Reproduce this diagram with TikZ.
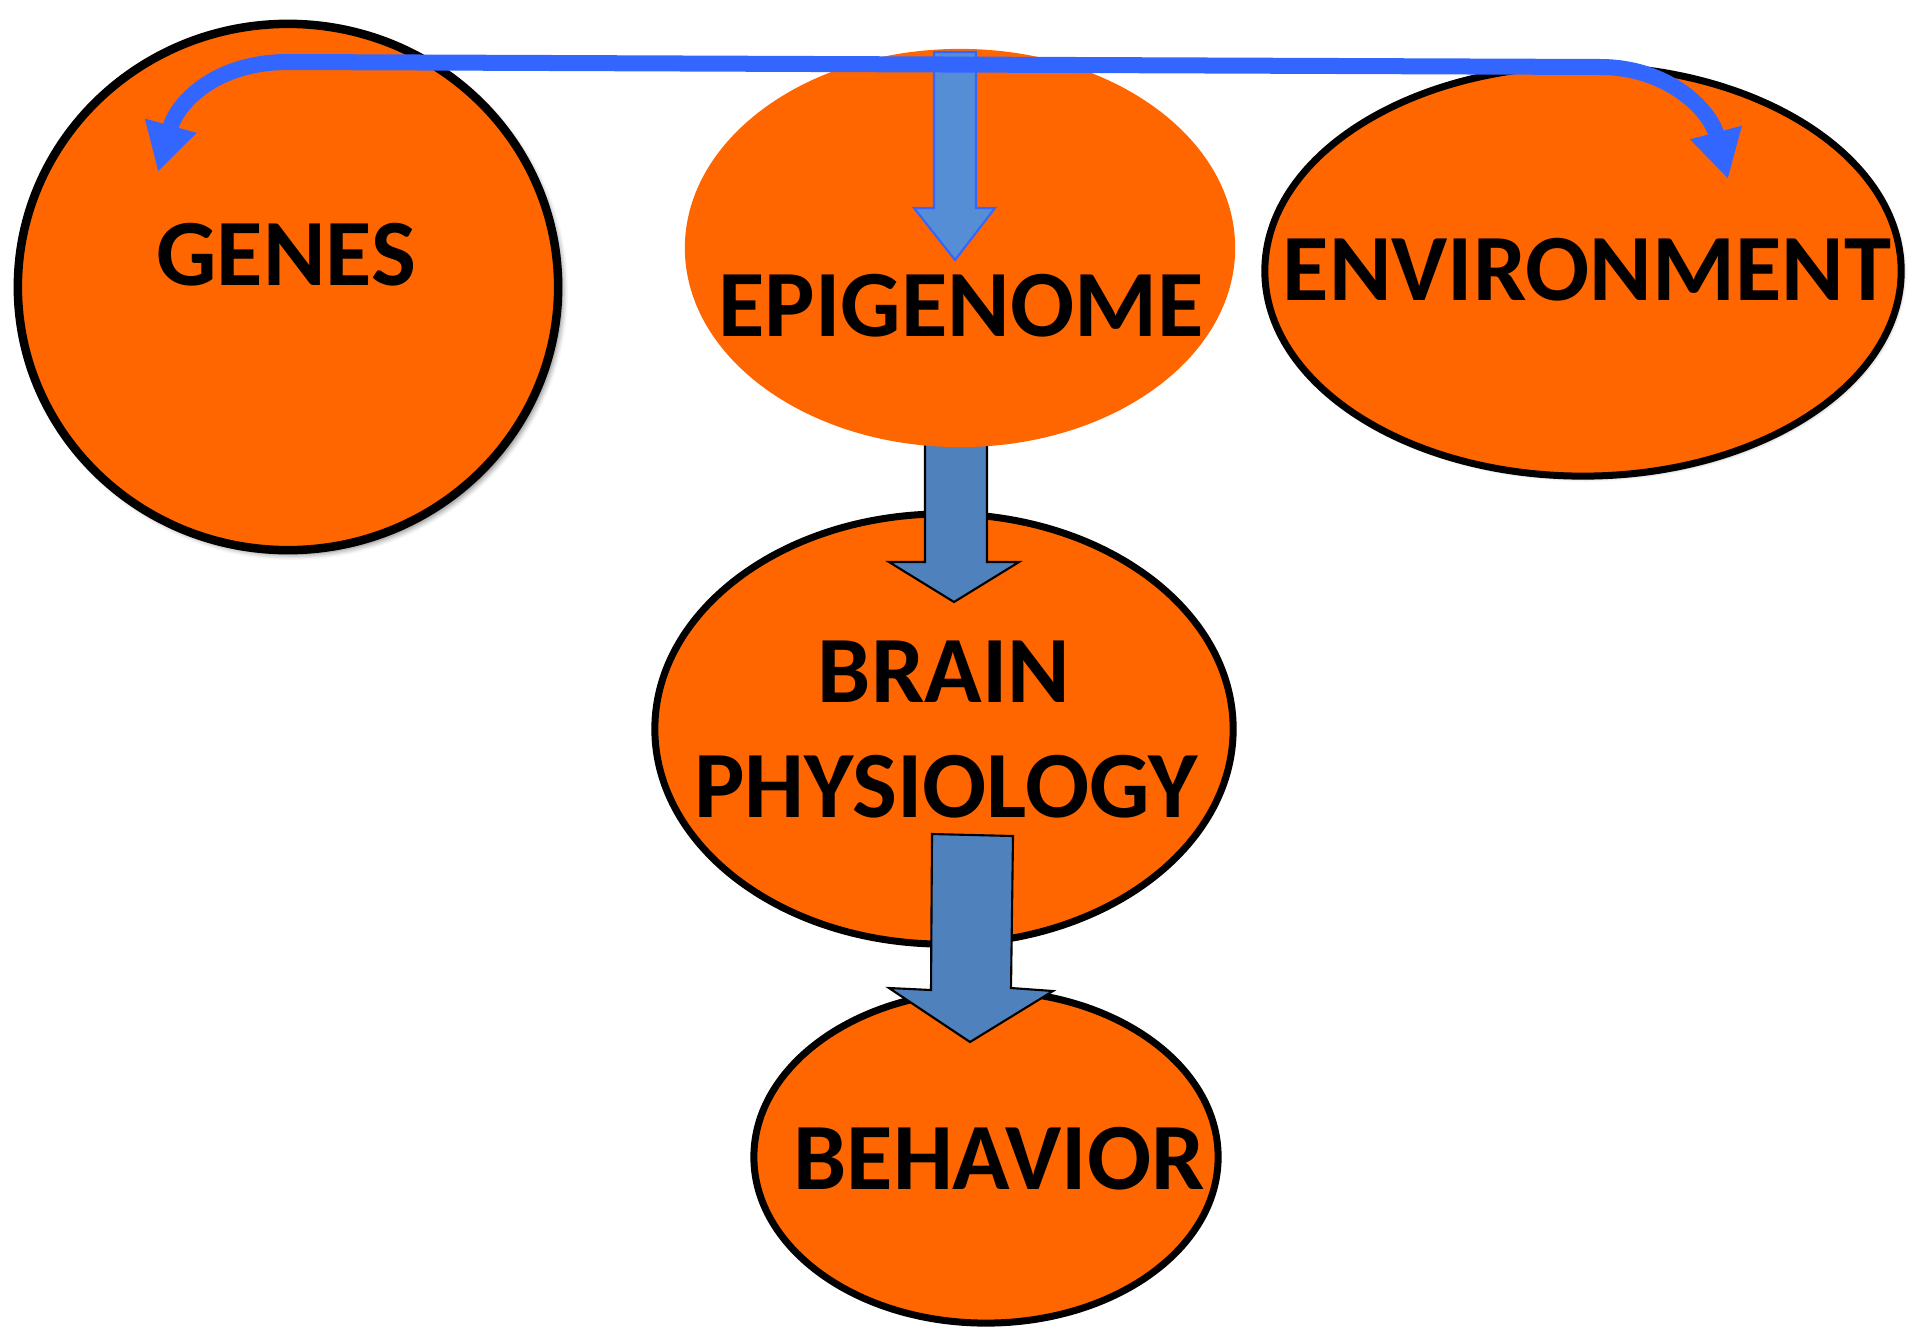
\documentclass[tikz,border=0pt]{standalone}
\usepackage{fontspec}
\setmainfont{Carlito}
\usetikzlibrary{shapes.geometric,arrows.meta,shadows.blur}
\definecolor{orangefill}{HTML}{FF6600}
\definecolor{linkblue}{HTML}{3366FF}
\definecolor{epiblue}{HTML}{558ED5}
\definecolor{stepblue}{HTML}{4F81BD}
\begin{document}
\begin{tikzpicture}[x=0.01cm,y=-0.01cm,
  blob/.style={ellipse, fill=orangefill, inner sep=0pt},
  rim/.style={draw=black, line width=0.07cm},
  caption/.style={font=\bfseries\fontsize{27}{32}\selectfont, anchor=base, inner sep=0pt},
  blockarrow/.style={fill=stepblue, draw=black, line width=0.6pt, line join=miter},
  epiarrow/.style={fill=epiblue, draw=linkblue, line width=0.6pt, line join=miter},
  link/.style={draw=linkblue, line width=0.16cm,
    {Triangle[length=0.48cm,width=0.5cm]}-{Triangle[length=0.48cm,width=0.5cm]}}]
  % frame of the whole picture
  \useasboundingbox (0,0) rectangle (1907,1327);

  % orange bubbles
  \node[blob, rim, line width=0.085cm, minimum width=5.40cm, minimum height=5.26cm,
        blur shadow={shadow xshift=1.2pt, shadow yshift=-1.2pt, shadow blur radius=1.6pt, shadow opacity=55}]
        (genes) at (288,287) {};
  \node[blob, rim, minimum width=6.36cm, minimum height=4.10cm,
        blur shadow={shadow xshift=0.6pt, shadow yshift=-0.6pt, shadow blur radius=1pt, shadow opacity=40}]
        (environment) at (1583,271) {};
  \node[blob, rim, minimum width=5.78cm, minimum height=4.30cm] (brain) at (944,729) {};
  \node[blob, rim, minimum width=4.64cm, minimum height=3.32cm] (behavior) at (986,1157) {};

  % block arrow from the epigenome down into brain physiology (tucked under the epigenome)
  \coordinate (a1) at (954,602);
  \draw[blockarrow] (925,420) -- (925,562) -- (889,562) -- (a1) -- (1019,562) -- (987,562) -- (987,420) -- cycle;

  \node[blob, minimum width=5.50cm, minimum height=3.98cm] (epigenome) at (960,248) {};

  % block arrow from brain physiology down to behavior
  \coordinate (a2) at (970,1042);
  \draw[blockarrow] (932,834) -- (1013,836) -- (1011,988) -- (1053,991) -- (a2) -- (889,988) -- (931,990) -- cycle;

  % arrow pointing down into the epigenome
  \coordinate (a3) at (955,260);
  \draw[epiarrow] (934,52) -- (976,52) -- (976,208) -- (995,208) -- (a3) -- (914,208) -- (934,208) -- cycle;

  % labels
  \node[caption] (tgenes) at (286,285) {GENES};
  \node[caption] (tepi) at (961,336) {EPIGENOME};
  \node[caption] (tenv) at (1587,300) {ENVIRONMENT};
  \node[caption] (tbrain) at (944,702) {BRAIN};
  \node[caption] (tphys) at (946,817) {PHYSIOLOGY};
  \node[caption] (tbeh) at (999,1189) {BEHAVIOR};

  % two-headed link between genes and environment, running over the epigenome
  \coordinate (lg) at (158,172);
  \coordinate (le) at (1728,179);
  \draw[link] (lg) .. controls (177,103) and (215,62) .. (288,62)
              -- (1600,67) .. controls (1668,67) and (1710,110) .. (le);
\end{tikzpicture}
\end{document}
